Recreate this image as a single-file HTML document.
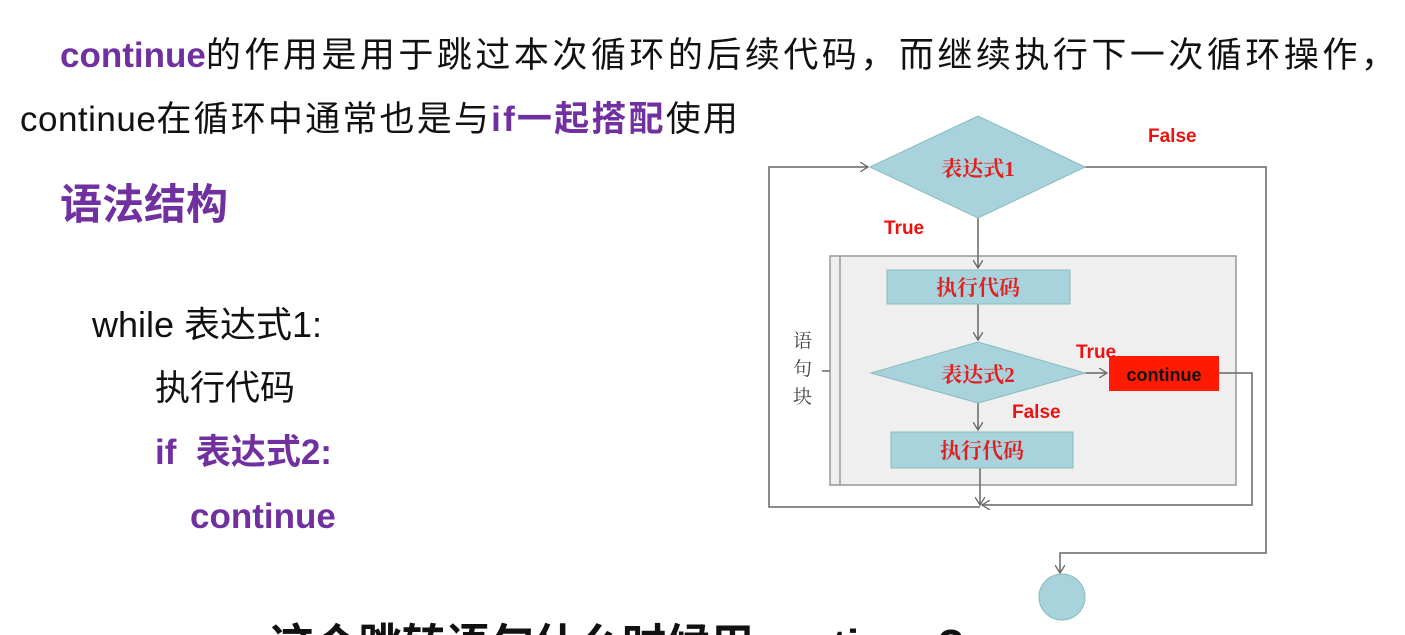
<!DOCTYPE html>
<html><head><meta charset="utf-8"><style>
html,body{margin:0;width:1405px;height:635px;overflow:hidden}
body{background:#fff;position:relative;font-family:"Liberation Sans","Noto Sans CJK SC",sans-serif;color:#111}
.t{position:absolute;white-space:nowrap;line-height:1}
.p{color:#7030a0;font-weight:bold}
</style></head><body>
<div class="t" style="left:60px;top:38px;font-size:35px;letter-spacing:3.5px"><span class="p" style="letter-spacing:0">continue</span>的作用是用于跳过本次循环的后续代码，而继续执行下一次循环操作，</div>
<div class="t" style="left:20px;top:102px;font-size:35px;letter-spacing:2.2px"><span style="letter-spacing:0.5px">continue</span>在循环中通常也是与<span class="p">if一起搭配</span>使用</div>
<div class="t p" style="left:60px;top:184px;font-size:42px">语法结构</div>
<div class="t" style="left:92px;top:307px;font-size:36px">while 表达式1:</div>
<div class="t" style="left:155px;top:371px;font-size:35px">执行代码</div>
<div class="t p" style="left:155px;top:435px;font-size:35px">if&nbsp; 表达式2:</div>
<div class="t p" style="left:190px;top:499px;font-size:35px">continue</div>
<div style="position:absolute;left:0;top:621px;width:1405px;height:14px;overflow:hidden">
<div class="t" style="left:270px;top:3px;font-size:44px;font-weight:bold">这个跳转语句什么时候用continue?</div>
</div>
<svg width="1405" height="635" style="position:absolute;left:0;top:0">
<defs><marker id="a" markerWidth="10" markerHeight="10" refX="8" refY="5" orient="auto" markerUnits="userSpaceOnUse"><path d="M0,0 L8,5 L0,10" fill="none" stroke="#666" stroke-width="1.3"/></marker></defs>
<rect x="830" y="256" width="406" height="229" fill="#efefef" stroke="#999" stroke-width="1.5"/>
<line x1="840" y1="256" x2="840" y2="485" stroke="#999" stroke-width="1.5"/>
<line x1="822" y1="371" x2="830" y2="371" stroke="#666" stroke-width="1.5"/>
<g stroke="#666" stroke-width="1.5" fill="none">
<polyline points="980,507 769,507 769,167 868,167" marker-end="url(#a)"/>
<polyline points="1085,167 1266,167 1266,553 1060,553 1060,573" marker-end="url(#a)"/>
<line x1="978" y1="218" x2="978" y2="268" marker-end="url(#a)"/>
<line x1="978" y1="304" x2="978" y2="340" marker-end="url(#a)"/>
<line x1="978" y1="403" x2="978" y2="430" marker-end="url(#a)"/>
<line x1="1085" y1="373" x2="1107" y2="373" marker-end="url(#a)"/>
<line x1="980" y1="468" x2="980" y2="505" marker-end="url(#a)"/>
<polyline points="1219,373 1252,373 1252,505 982,505" marker-end="url(#a)"/>
</g>
<polygon points="870,167 978,116 1085,167 978,218" fill="#a9d3dc" stroke="#8bb" stroke-width="1"/>
<polygon points="871,373 978,342 1085,373 978,403" fill="#a9d3dc" stroke="#8bb" stroke-width="1"/>
<rect x="887" y="270" width="183" height="34" fill="#a9d3dc" stroke="#8bb"/>
<rect x="891" y="432" width="182" height="36" fill="#a9d3dc" stroke="#8bb"/>
<rect x="1109" y="356" width="110" height="35" fill="#ff1a00"/>
<circle cx="1062" cy="597" r="23" fill="#a9d3dc" stroke="#8bb"/>
<g font-family="Liberation Serif,Noto Serif CJK SC,serif" font-weight="bold" fill="#e02020" font-size="21" text-anchor="middle">
<text x="978" y="176">表达式1</text>
<text x="978" y="382">表达式2</text>
<text x="978" y="295">执行代码</text>
<text x="982" y="458">执行代码</text>
</g>
<g font-family="Liberation Sans,sans-serif" font-weight="bold" fill="#ee1111" font-size="19">
<text x="1148" y="142">False</text>
<text x="884" y="234">True</text>
<text x="1076" y="358">True</text>
<text x="1012" y="418">False</text>
</g>
<text x="1164" y="381" font-family="Liberation Sans,sans-serif" font-weight="bold" font-size="18" text-anchor="middle" fill="#111">continue</text>
<g font-family="Noto Serif CJK SC,serif" font-size="19" fill="#444">
<text x="793" y="347">语</text><text x="793" y="375">句</text><text x="793" y="403">块</text>
</g>
</svg>
</body></html>
